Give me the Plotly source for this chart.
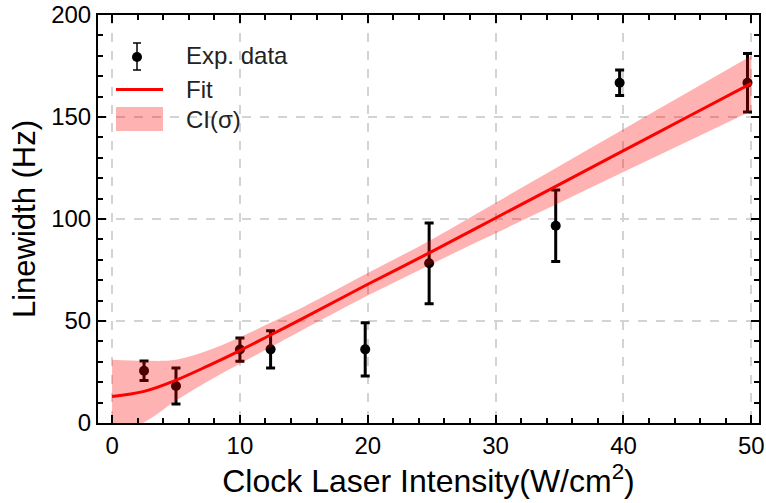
import plotly.graph_objects as go

# Experimental data
exp_x = [2.5, 5.0, 10.0, 12.4, 19.8, 24.8, 34.7, 39.7, 49.7]
exp_y = [25.6, 18.1, 36.0, 36.1, 36.1, 78.3, 96.7, 166.8, 166.8]
exp_err = [4.8, 8.8, 5.7, 9.1, 13.0, 19.8, 17.5, 6.2, 14.3]

# Fit curve and confidence band
fit_x = [0, 2.5, 5, 7.5, 10, 12.5, 15, 20, 25, 30, 35, 40, 45, 50]
fit_y = [13, 15.5, 21, 28, 35.5, 43.5, 51.5, 68, 84, 100.5, 117, 133.5, 150, 166.5]
ci_lo = [-5, 0.3, 11, 20.5, 29, 37.5, 46, 62.5, 78, 93, 108, 123, 138, 153]
ci_hi = [31, 30.5, 31, 35.5, 42, 49.5, 57, 73.5, 90, 108, 126, 144, 162, 180]

legend_labels = ["Exp. data", "Fit", "CI(σ)"]

FONT = "Liberation Sans, Arial, sans-serif"
BAND = "rgba(255,0,0,0.3)"

W, H = 766, 503
ML, MR, MT, MB = 98, 7, 15, 80
PW, PH = W - ML - MR, H - MT - MB


def px(x):
    return (x - ML) / PW


def py(y):
    return (H - MB - y) / PH


fig = go.Figure()

fig.add_trace(go.Scatter(
    x=exp_x, y=exp_y, mode="markers", name=legend_labels[0],
    marker=dict(color="black", size=10),
    error_y=dict(type="data", array=exp_err, color="black", thickness=3, width=4.5),
    showlegend=False,
))

fig.add_trace(go.Scatter(
    x=fit_x, y=ci_lo, mode="lines", line=dict(width=0, shape="spline"),
    showlegend=False, hoverinfo="skip",
))
fig.add_trace(go.Scatter(
    x=fit_x, y=ci_hi, mode="lines", line=dict(width=0, shape="spline"),
    fill="tonexty", fillcolor=BAND, name=legend_labels[2], showlegend=False,
))
fig.add_trace(go.Scatter(
    x=fit_x, y=fit_y, mode="lines", name=legend_labels[1],
    line=dict(color="#ff0000", width=3, shape="spline"), showlegend=False,
))

# Manual legend (glyphs + text)
shapes = []
shapes.append(dict(type="line", xref="paper", yref="paper",
                   x0=px(137), x1=px(137), y0=py(43), y1=py(70),
                   line=dict(color="black", width=1.5)))
for yy in (43, 70):
    shapes.append(dict(type="line", xref="paper", yref="paper",
                       x0=px(133), x1=px(141), y0=py(yy), y1=py(yy),
                       line=dict(color="black", width=1.5)))
shapes.append(dict(type="circle", xref="paper", yref="paper",
                   x0=px(132), x1=px(142), y0=py(52), y1=py(62),
                   fillcolor="black", line=dict(color="black", width=0)))
shapes.append(dict(type="line", xref="paper", yref="paper",
                   x0=px(116), x1=px(163), y0=py(89.5), y1=py(89.5),
                   line=dict(color="#ff0000", width=3)))
shapes.append(dict(type="rect", xref="paper", yref="paper",
                   x0=px(116), x1=px(163), y0=py(107), y1=py(131),
                   fillcolor=BAND, line=dict(width=0)))

annotations = []
for label, yy in zip(legend_labels, (56, 89, 119)):
    annotations.append(dict(text=label, xref="paper", yref="paper",
                            x=px(184), y=py(yy), xanchor="left", yanchor="middle",
                            showarrow=False,
                            font=dict(family=FONT, size=24, color="#222")))

axis_common = dict(
    showline=True, linecolor="black", linewidth=2, mirror="ticks",
    ticks="inside", ticklen=8, tickwidth=2, tickcolor="black",
    showgrid=True, gridcolor="#d3d3d3", griddash="dash", gridwidth=1.5,
    zeroline=False, automargin=False,
    tickfont=dict(family=FONT, size=24, color="black"),
)

fig.update_xaxes(
    range=[-1.1, 50.6], tickvals=[0, 10, 20, 30, 40, 50],
    minor=dict(dtick=2, tick0=0, ticks="inside", ticklen=5, tickwidth=1.5,
               tickcolor="black", showgrid=False),
    title=dict(text="Clock Laser Intensity(W/cm<sup>2</sup>)",
               font=dict(family=FONT, size=32, color="black"), standoff=4),
    **axis_common,
)
fig.update_yaxes(
    range=[0, 200], tickvals=[0, 50, 100, 150, 200],
    minor=dict(dtick=10, tick0=0, ticks="inside", ticklen=5, tickwidth=1.5,
               tickcolor="black", showgrid=False),
    title=dict(text="Linewidth (Hz)",
               font=dict(family=FONT, size=31, color="black"), standoff=6),
    **axis_common,
)

fig.update_layout(
    width=W, height=H,
    margin=dict(l=ML, r=MR, t=MT, b=MB, autoexpand=False),
    plot_bgcolor="white", paper_bgcolor="white",
    font=dict(family=FONT, color="black"),
    showlegend=False,
    shapes=shapes,
    annotations=annotations,
)

fig.write_html("out.html")
